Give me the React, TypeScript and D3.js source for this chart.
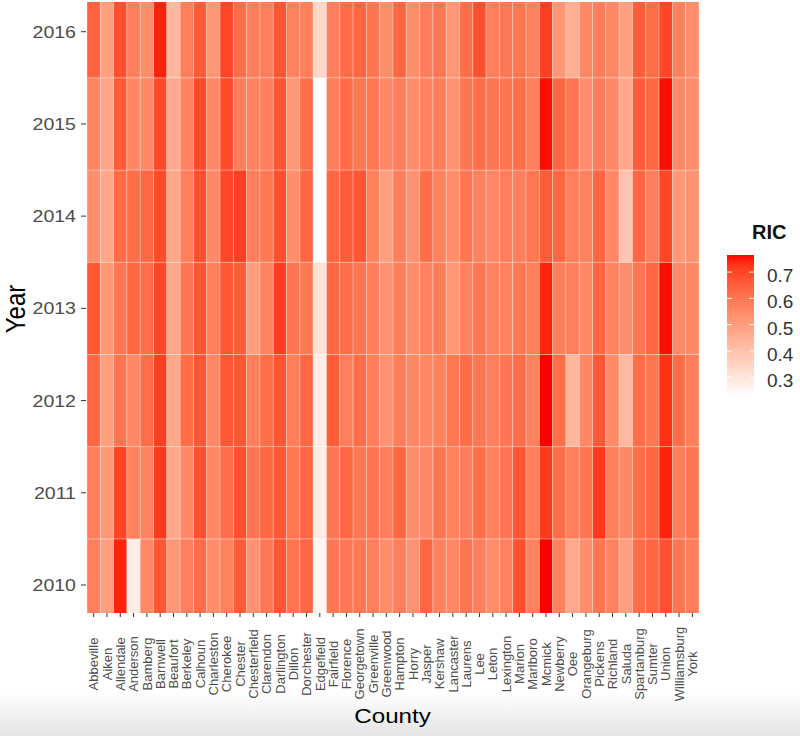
import React from "react";
import * as d3 from "d3";

const counties = ["Abbeville","Aiken","Allendale","Anderson","Bamberg","Barnwell","Beaufort","Berkeley","Calhoun","Charleston","Cherokee","Chester","Chesterfield","Clarendon","Darlington","Dillon","Dorchester","Edgefield","Fairfield","Florence","Georgetown","Greenville","Greenwood","Hampton","Horry","Jasper","Kershaw","Lancaster","Laurens","Lee","Leton","Lexington","Marion","Marlboro","Mcmick","Newberry","Oee","Orangeburg","Pickens","Richland","Saluda","Spartanburg","Sumter","Union","Williamsburg","York"];

const years = ["2010", "2011", "2012", "2013", "2014", "2015", "2016"];

const ric2016 = [0.645,0.495,0.68,0.58,0.54,0.745,0.43,0.58,0.655,0.52,0.70,0.62,0.58,0.58,0.67,0.57,0.58,0.34,0.58,0.62,0.635,0.60,0.54,0.635,0.54,0.58,0.595,0.52,0.62,0.68,0.58,0.595,0.60,0.57,0.71,0.52,0.455,0.555,0.58,0.555,0.495,0.655,0.62,0.70,0.57,0.54];
const ric2015 = [0.565,0.48,0.655,0.555,0.555,0.69,0.465,0.57,0.69,0.555,0.69,0.58,0.57,0.58,0.67,0.515,0.62,0.225,0.58,0.62,0.595,0.595,0.555,0.58,0.54,0.57,0.58,0.53,0.60,0.62,0.60,0.60,0.62,0.58,0.76,0.635,0.60,0.54,0.58,0.555,0.475,0.655,0.635,0.76,0.555,0.54];
const ric2014 = [0.54,0.475,0.62,0.62,0.635,0.69,0.475,0.58,0.68,0.555,0.70,0.71,0.58,0.595,0.68,0.54,0.635,0.225,0.635,0.655,0.67,0.57,0.495,0.58,0.53,0.62,0.57,0.54,0.60,0.57,0.555,0.58,0.58,0.595,0.655,0.635,0.58,0.57,0.635,0.555,0.39,0.635,0.58,0.70,0.515,0.53];
const ric2013 = [0.67,0.515,0.60,0.635,0.62,0.70,0.475,0.60,0.67,0.58,0.67,0.655,0.495,0.57,0.71,0.60,0.595,0.31,0.635,0.62,0.60,0.58,0.53,0.58,0.54,0.57,0.58,0.52,0.57,0.60,0.57,0.57,0.595,0.58,0.745,0.58,0.58,0.555,0.635,0.57,0.54,0.60,0.635,0.76,0.555,0.555];
const ric2012 = [0.635,0.495,0.60,0.555,0.62,0.71,0.475,0.62,0.665,0.555,0.67,0.67,0.58,0.62,0.67,0.58,0.635,0.275,0.655,0.58,0.62,0.58,0.53,0.58,0.555,0.555,0.57,0.595,0.62,0.60,0.58,0.60,0.62,0.57,0.765,0.62,0.43,0.555,0.665,0.55,0.425,0.62,0.60,0.73,0.62,0.58];
const ric2011 = [0.58,0.515,0.70,0.57,0.57,0.72,0.475,0.555,0.68,0.555,0.62,0.68,0.60,0.635,0.665,0.595,0.635,0.28,0.60,0.635,0.60,0.60,0.58,0.635,0.54,0.555,0.60,0.57,0.58,0.62,0.57,0.60,0.67,0.58,0.72,0.62,0.58,0.60,0.72,0.58,0.555,0.62,0.635,0.745,0.58,0.60];
const ric2010 = [0.58,0.495,0.745,0.28,0.555,0.67,0.52,0.58,0.62,0.54,0.57,0.655,0.53,0.595,0.67,0.60,0.635,0.25,0.595,0.595,0.595,0.58,0.54,0.58,0.53,0.635,0.57,0.555,0.60,0.58,0.54,0.57,0.68,0.57,0.765,0.57,0.47,0.54,0.60,0.57,0.495,0.62,0.635,0.68,0.60,0.58];

const seriesByYear: Record<string, number[]> = {
  "2010": ric2010, "2011": ric2011, "2012": ric2012, "2013": ric2013,
  "2014": ric2014, "2015": ric2015, "2016": ric2016,
};

const legendTicks = [0.3, 0.4, 0.5, 0.6, 0.7];

const W = 800, H = 736;
const PL = 87, PR = 699, PT = 2, PB = 613;

export default function App() {
  const cells = years.flatMap((yr) =>
    counties.map((c, i) => ({ county: c, year: yr, value: seriesByYear[yr][i] }))
  );
  const x = d3.scaleBand<string>().domain(counties).range([PL, PR]).padding(0);
  const y = d3.scaleBand<string>().domain([...years].reverse()).range([-14.4, 631.1]).padding(0);
  const ext = [0.225, 0.765];
  const color = d3.scaleLinear<string>().domain(ext).range(["#ffffff", "#ff0000"]).interpolate(d3.interpolateLab).clamp(true);
  const yL = d3.scaleLinear().domain(ext).range([397, 255]);
  const stops = d3.range(0, 1.0001, 0.05);
  const sx = 1.15;

  return (
    <svg width={W} height={H} style={{ position: "absolute", left: 0, top: 0, background: "#fff" }}
      fontFamily="'Liberation Sans', Arial, sans-serif">
      <defs>
        <clipPath id="panel"><rect x={PL} y={PT} width={PR - PL} height={PB - PT} /></clipPath>
        <linearGradient id="legGrad" x1="0" y1="1" x2="0" y2="0">
          {stops.map((s) => (
            <stop key={s} offset={s} stopColor={color(ext[0] + s * (ext[1] - ext[0]))} />
          ))}
        </linearGradient>
        <linearGradient id="shade" x1="0" y1="0" x2="0" y2="1">
          <stop offset="0" stopColor="#ffffff" />
          <stop offset="1" stopColor="#e4e4e4" />
        </linearGradient>
      </defs>
      <rect x={0} y={0} width={W} height={H} fill="#fff" />
      <rect x={0} y={692} width={W} height={H - 692} fill="url(#shade)" />

      <g clipPath="url(#panel)">
        {cells.map((d) => (
          <rect key={d.county + d.year} x={x(d.county)} y={y(d.year)} width={x.bandwidth()} height={y.bandwidth()}
            fill={color(d.value)} stroke="#ffffff" strokeOpacity={0.35} strokeWidth={0.8} />
        ))}
      </g>

      {/* y axis */}
      {years.map((yr) => {
        const cy = (y(yr) as number) + y.bandwidth() / 2;
        return (
          <g key={yr}>
            <line x1={81} x2={86} y1={cy} y2={cy} stroke="#333" strokeWidth={1} />
            <text transform={`translate(76,${cy}) scale(${sx},1)`} dy="0.36em" textAnchor="end" fontSize={17} fill="#4d4d4d">{yr}</text>
          </g>
        );
      })}

      {/* x axis */}
      {counties.map((c) => {
        const cx = (x(c) as number) + x.bandwidth() / 2;
        return (
          <g key={c}>
            <line x1={cx} x2={cx} y1={PB} y2={PB + 4} stroke="#333" strokeWidth={1} />
            <text transform={`translate(${cx},664) rotate(-90)`} dy="0.36em" textAnchor="middle" fontSize={13} fill="#4d4d4d">{c}</text>
          </g>
        );
      })}

      <text transform={`translate(25,309) scale(1.12,1) rotate(-90)`} textAnchor="middle" fontSize={24} fill="#000">Year</text>
      <text transform={`translate(392.5,723) scale(${sx},1)`} textAnchor="middle" fontSize={21} fill="#000">County</text>

      {/* legend */}
      <text x={752} y={239} fontSize={20} fontWeight="bold" fill="#111">RIC</text>
      <rect x={727} y={255} width={27} height={142} fill="url(#legGrad)" />
      {legendTicks.map((t) => (
        <g key={t}>
          <line x1={727} x2={732} y1={yL(t)} y2={yL(t)} stroke="#fff" strokeWidth={1} />
          <line x1={749} x2={754} y1={yL(t)} y2={yL(t)} stroke="#fff" strokeWidth={1} />
          <text x={767} y={yL(t) + 3} dy="0.36em" fontSize={19} fill="#333">{t.toFixed(1)}</text>
        </g>
      ))}
    </svg>
  );
}
